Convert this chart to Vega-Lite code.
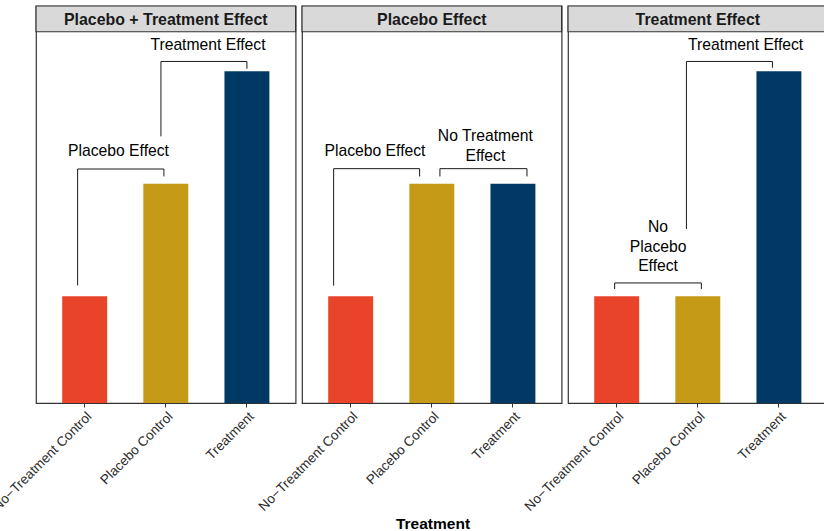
{
  "$schema": "https://vega.github.io/schema/vega-lite/v6.json",
  "padding": {"left": -11, "top": 4, "right": 0, "bottom": 0},
  "bounds": "flush",
  "background": "white",
  "config": {
    "view": {"stroke": "#333333", "strokeWidth": 1.2},
    "font": "Liberation Sans"
  },
  "title": {
    "text": "Treatment",
    "orient": "bottom",
    "anchor": "middle",
    "frame": "bounds",
    "dx": 24,
    "offset": 4,
    "baseline": "top",
    "font": "Liberation Sans",
    "fontSize": 15.5,
    "fontWeight": "bold",
    "color": "black"
  },
  "data": {
    "values": [
      {"panel": "Placebo + Treatment Effect", "kind": "strip"},
      {"panel": "Placebo Effect", "kind": "strip"},
      {"panel": "Treatment Effect", "kind": "strip"},
      {"panel": "Placebo + Treatment Effect", "kind": "bar", "condition": "No−Treatment Control", "value": 0.95},
      {"panel": "Placebo + Treatment Effect", "kind": "bar", "condition": "Placebo Control", "value": 1.95},
      {"panel": "Placebo + Treatment Effect", "kind": "bar", "condition": "Treatment", "value": 2.95},
      {"panel": "Placebo Effect", "kind": "bar", "condition": "No−Treatment Control", "value": 0.95},
      {"panel": "Placebo Effect", "kind": "bar", "condition": "Placebo Control", "value": 1.95},
      {"panel": "Placebo Effect", "kind": "bar", "condition": "Treatment", "value": 1.95},
      {"panel": "Treatment Effect", "kind": "bar", "condition": "No−Treatment Control", "value": 0.95},
      {"panel": "Treatment Effect", "kind": "bar", "condition": "Placebo Control", "value": 0.95},
      {"panel": "Treatment Effect", "kind": "bar", "condition": "Treatment", "value": 2.95},
      {"panel": "Placebo + Treatment Effect", "kind": "bracket", "left": 0.913, "right": 1.977, "top": 2.08, "leftEnd": 1.045, "rightEnd": 2.014},
      {"panel": "Placebo + Treatment Effect", "kind": "bracket", "left": 1.94, "right": 3.0, "top": 3.036, "leftEnd": 2.37, "rightEnd": 2.971},
      {"panel": "Placebo Effect", "kind": "bracket", "left": 0.79, "right": 1.85, "top": 2.083, "leftEnd": 1.043, "rightEnd": 2.014},
      {"panel": "Placebo Effect", "kind": "bracket", "left": 2.1, "right": 3.173, "top": 2.083, "leftEnd": 2.014, "rightEnd": 2.014},
      {"panel": "Treatment Effect", "kind": "bracket", "left": 0.975, "right": 2.044, "top": 1.067, "leftEnd": 1.013, "rightEnd": 1.013},
      {"panel": "Treatment Effect", "kind": "bracket", "left": 1.86, "right": 2.92, "top": 3.036, "leftEnd": 1.547, "rightEnd": 2.98},
      {"panel": "Placebo + Treatment Effect", "kind": "label", "lx": 1.417, "ly": 2.194, "label": "Placebo Effect"},
      {"panel": "Placebo + Treatment Effect", "kind": "label", "lx": 2.52, "ly": 3.134, "label": "Treatment Effect"},
      {"panel": "Placebo Effect", "kind": "label", "lx": 1.3, "ly": 2.194, "label": "Placebo Effect"},
      {"panel": "Placebo Effect", "kind": "label", "lx": 2.66, "ly": 2.329, "label": "No Treatment\nEffect"},
      {"panel": "Treatment Effect", "kind": "label", "lx": 1.51, "ly": 1.52, "label": "No\nPlacebo\nEffect"},
      {"panel": "Treatment Effect", "kind": "label", "lx": 2.59, "ly": 3.134, "label": "Treatment Effect"}
    ]
  },
  "facet": {
    "column": {
      "field": "panel",
      "type": "nominal",
      "sort": ["Placebo + Treatment Effect", "Placebo Effect", "Treatment Effect"],
      "title": null,
      "header": {"labels": false, "title": null}
    }
  },
  "spacing": 6,
  "resolve": {"scale": {"x": "independent"}, "axis": {"x": "independent"}},
  "spec": {
    "width": 259.6,
    "height": 397,
    "layer": [
      {
        "transform": [{"filter": "datum.kind == 'strip'"}],
        "mark": {"type": "rect", "fill": "#D9D9D9", "stroke": "#333333", "strokeWidth": 1.2},
        "encoding": {
          "x": {"datum": 0.4, "type": "quantitative", "scale": {"domain": [0.4, 3.6], "nice": false, "zero": false}, "axis": null},
          "x2": {"datum": 3.6},
          "y": {"datum": 3.3, "type": "quantitative", "scale": {"domain": [0, 3.529], "nice": false, "zero": false}, "axis": null},
          "y2": {"datum": 3.529}
        }
      },
      {
        "transform": [{"filter": "datum.kind == 'strip'"}],
        "mark": {"type": "text", "fontWeight": "bold", "fontSize": 15.9, "color": "#1a1a1a", "baseline": "alphabetic", "align": "center"},
        "encoding": {
          "x": {"datum": 2, "type": "quantitative", "scale": {"domain": [0.4, 3.6], "nice": false, "zero": false}, "axis": null},
          "y": {"datum": 3.36, "type": "quantitative", "scale": {"domain": [0, 3.529], "nice": false, "zero": false}, "axis": null},
          "text": {"field": "panel"}
        }
      },
      {
        "transform": [{"filter": "datum.kind == 'bar'"}],
        "mark": {"type": "bar"},
        "encoding": {
          "x": {
            "field": "condition",
            "type": "nominal",
            "sort": ["No−Treatment Control", "Placebo Control", "Treatment"],
            "scale": {"paddingInner": 0.446, "paddingOuter": 0.323},
            "axis": {
              "title": null,
              "labelAngle": -45,
              "domain": false,
              "ticks": true,
              "tickColor": "#333333",
              "tickSize": 4,
              "tickWidth": 1,
              "labelFontSize": 13.5,
              "labelColor": "#2b2b2b",
              "labelFont": "Liberation Sans",
              "labelPadding": 2
            }
          },
          "y": {"field": "value", "type": "quantitative", "scale": {"domain": [0, 3.529], "nice": false, "zero": false}, "axis": null},
          "color": {
            "field": "condition",
            "type": "nominal",
            "scale": {"domain": ["No−Treatment Control", "Placebo Control", "Treatment"], "range": ["#E9432A", "#C59A16", "#003A64"]},
            "legend": null
          }
        }
      },
      {
        "transform": [{"filter": "datum.kind == 'bracket'"}],
        "mark": {"type": "rule", "color": "#1a1a1a", "strokeWidth": 1},
        "encoding": {
          "x": {"field": "left", "type": "quantitative", "scale": {"domain": [0.4, 3.6], "nice": false, "zero": false}, "axis": null},
          "x2": {"field": "right"},
          "y": {"field": "top", "type": "quantitative", "scale": {"domain": [0, 3.529], "nice": false, "zero": false}, "axis": null}
        }
      },
      {
        "transform": [{"filter": "datum.kind == 'bracket'"}],
        "mark": {"type": "rule", "color": "#1a1a1a", "strokeWidth": 1},
        "encoding": {
          "x": {"field": "left", "type": "quantitative", "scale": {"domain": [0.4, 3.6], "nice": false, "zero": false}, "axis": null},
          "y": {"field": "leftEnd", "type": "quantitative", "scale": {"domain": [0, 3.529], "nice": false, "zero": false}, "axis": null},
          "y2": {"field": "top"}
        }
      },
      {
        "transform": [{"filter": "datum.kind == 'bracket'"}],
        "mark": {"type": "rule", "color": "#1a1a1a", "strokeWidth": 1},
        "encoding": {
          "x": {"field": "right", "type": "quantitative", "scale": {"domain": [0.4, 3.6], "nice": false, "zero": false}, "axis": null},
          "y": {"field": "rightEnd", "type": "quantitative", "scale": {"domain": [0, 3.529], "nice": false, "zero": false}, "axis": null},
          "y2": {"field": "top"}
        }
      },
      {
        "transform": [{"filter": "datum.kind == 'label'"}],
        "mark": {"type": "text", "fontSize": 15.7, "color": "black", "baseline": "alphabetic", "align": "center", "lineBreak": "\n", "lineHeight": 19.7},
        "encoding": {
          "x": {"field": "lx", "type": "quantitative", "scale": {"domain": [0.4, 3.6], "nice": false, "zero": false}, "axis": null},
          "y": {"field": "ly", "type": "quantitative", "scale": {"domain": [0, 3.529], "nice": false, "zero": false}, "axis": null},
          "text": {"field": "label"}
        }
      }
    ],
    "resolve": {"scale": {"x": "independent"}, "axis": {"x": "independent"}}
  }
}
